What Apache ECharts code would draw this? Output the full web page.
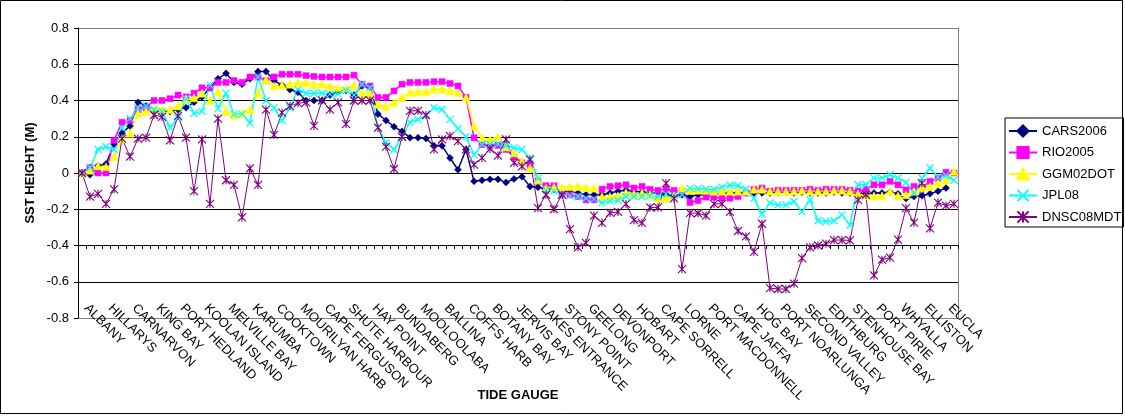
<!DOCTYPE html>
<html>
<head>
<meta charset="utf-8">
<script src="https://cdn.jsdelivr.net/npm/echarts@6/dist/echarts.min.js"></script>
<style>
html,body{margin:0;padding:0;background:#fff;}
#chart{width:1125px;height:416px;}
</style>
</head>
<body>
<div id="chart"></div>
<script>
// Tide gauge names (every third gauge is labelled on the axis)
const stationNames = ['ALBANY','HILLARYS','CARNARVON','KING BAY','PORT HEDLAND','KOOLAN ISLAND','MELVILLE BAY','KARUMBA','COOKTOWN','MOURILYAN HARB','CAPE FERGUSON','SHUTE HARBOUR','HAY POINT','BUNDABERG','MOOLOOLABA','BALLINA','COFFS HARB','BOTANY BAY','JERVIS BAY','LAKES ENTRANCE','STONY POINT','GEELONG','DEVONPORT','HOBART','CAPE SORRELL','LORNE','PORT MACDONNELL','CAPE JAFFA','HOG BAY','PORT NOARLUNGA','SECOND VALLEY','EDITHBURG','STENHOUSE BAY','PORT PIRIE','WHYALLA','ELLISTON','EUCLA'];
const gaugeCount = 110;
const categories = [];
for (let i = 0; i < gaugeCount; i++) { categories.push(i % 3 === 0 && stationNames[i / 3] ? stationNames[i / 3] : ''); }

const yTicks = ['-0.8','-0.6','-0.4','-0.2','0','0.2','0.4','0.6','0.8'];

const cars2006 = [0,-0.01,0.04,0.05,0.16,0.22,0.26,0.39,0.37,0.34,
0.34,0.34,0.35,0.36,0.39,0.42,0.47,0.52,0.55,0.50,
0.49,0.52,0.56,0.56,0.51,0.485,0.46,0.445,0.40,0.40,
0.40,0.43,0.45,0.455,0.43,0.48,0.47,0.325,0.29,0.255,
0.23,0.195,0.195,0.19,0.15,0.15,0.083,0.018,0.13,-0.046,
-0.04,-0.035,-0.035,-0.052,-0.033,-0.02,-0.074,-0.078,-0.09,-0.09,
-0.10,-0.105,-0.11,-0.12,-0.12,-0.12,-0.11,-0.10,-0.095,-0.10,
-0.105,-0.11,-0.11,-0.12,-0.13,-0.12,-0.13,-0.12,-0.12,-0.12,
-0.115,-0.11,-0.11,-0.11,-0.11,-0.11,-0.11,-0.105,-0.105,-0.11,
-0.105,-0.11,-0.11,-0.11,-0.105,-0.11,-0.11,-0.11,-0.115,-0.11,
-0.11,-0.105,-0.115,-0.14,-0.13,-0.125,-0.115,-0.10,-0.083,null];

const rio2005 = [0,0.03,0,0,0.18,0.28,0.29,0.35,0.36,0.40,
0.40,0.41,0.43,0.42,0.44,0.47,0.47,0.50,0.50,0.51,
0.50,0.53,0.53,0.51,0.53,0.545,0.545,0.545,0.537,0.533,
0.53,0.53,0.53,0.53,0.54,0.49,0.48,0.417,0.417,0.453,
0.49,0.50,0.50,0.50,0.504,0.504,0.494,0.48,0.417,0.194,
0.157,0.148,0.152,0.13,0.089,0.056,0.046,-0.046,-0.07,-0.07,
-0.11,-0.12,-0.13,-0.148,-0.148,-0.089,-0.074,-0.07,-0.065,-0.083,
-0.074,-0.09,-0.096,-0.09,-0.096,-0.10,-0.163,-0.152,-0.133,-0.133,
-0.139,-0.139,-0.13,-0.11,-0.09,-0.083,-0.10,-0.095,-0.095,-0.095,
-0.095,-0.09,-0.095,-0.09,-0.09,-0.09,-0.095,-0.10,-0.089,-0.065,
-0.065,-0.046,-0.065,-0.093,-0.074,-0.08,-0.046,-0.028,0.004,0];

const ggm02dot = [0,0.015,0.04,0.035,0.09,0.19,0.22,0.33,0.34,0.355,
0.35,0.35,0.37,0.41,0.415,0.44,0.40,0.45,0.34,0.32,
0.33,0.35,0.44,0.515,0.48,0.485,0.49,0.50,0.50,0.49,
0.49,0.48,0.47,0.467,0.485,0.44,0.44,0.38,0.367,0.39,
0.417,0.444,0.448,0.45,0.463,0.463,0.454,0.444,0.417,0.26,
0.194,0.185,0.20,0.144,0.111,0.065,0.028,-0.037,-0.083,-0.078,
-0.078,-0.074,-0.074,-0.08,-0.083,-0.13,-0.13,-0.126,-0.107,-0.115,
-0.11,-0.12,-0.139,-0.139,-0.125,-0.083,-0.096,-0.095,-0.095,-0.10,
-0.10,-0.10,-0.10,-0.10,-0.09,-0.09,-0.10,-0.10,-0.10,-0.10,
-0.095,-0.10,-0.10,-0.10,-0.095,-0.095,-0.10,-0.115,-0.125,-0.126,
-0.126,-0.10,-0.126,-0.12,-0.10,-0.078,-0.074,-0.056,-0.04,0.01];

const jpl08 = [0,0.03,0.13,0.145,0.13,0.25,0.30,0.36,0.37,0.35,
0.34,0.25,0.305,0.41,0.33,0.34,0.485,0.355,0.44,0.325,
0.325,0.275,0.53,0.40,0.36,0.29,0.36,0.46,0.44,0.44,
0.44,0.435,0.435,0.455,0.43,0.49,0.47,0.25,0.167,0.13,
0.20,0.28,0.296,0.315,0.36,0.35,0.296,0.244,0.20,0.10,
0.157,0.157,0.16,0.152,0.139,0.13,0.083,-0.028,-0.093,-0.10,
-0.115,-0.126,-0.13,-0.139,-0.144,-0.165,-0.155,-0.15,-0.13,-0.13,
-0.13,-0.125,-0.13,-0.115,-0.125,-0.12,-0.085,-0.085,-0.09,-0.09,
-0.078,-0.068,-0.07,-0.09,-0.14,-0.226,-0.165,-0.176,-0.176,-0.157,
-0.213,-0.148,-0.263,-0.268,-0.263,-0.231,-0.287,-0.065,-0.065,-0.028,
-0.028,-0.01,-0.028,-0.052,-0.11,-0.028,0.028,-0.022,-0.015,-0.04];

const dnsc08mdt = [0,-0.13,-0.115,-0.17,-0.09,0.19,0.09,0.19,0.195,0.32,
0.31,0.18,0.315,0.195,-0.10,0.185,-0.17,0.30,-0.04,-0.065,
-0.245,0.025,-0.066,0.35,0.21,0.333,0.37,0.385,0.39,0.26,
0.40,0.35,0.39,0.27,0.40,0.40,0.40,0.25,0.145,0.022,
0.20,0.343,0.343,0.32,0.13,0.185,0.204,0.176,0.13,0.046,
0.083,0.133,0.096,0.185,0.056,0.037,0.074,-0.194,-0.12,-0.20,
-0.12,-0.31,-0.41,-0.385,-0.235,-0.275,-0.22,-0.215,-0.17,-0.26,
-0.275,-0.19,-0.19,-0.056,-0.14,-0.53,-0.22,-0.222,-0.235,-0.17,
-0.17,-0.215,-0.32,-0.35,-0.435,-0.28,-0.635,-0.64,-0.64,-0.61,
-0.47,-0.41,-0.40,-0.39,-0.37,-0.37,-0.372,-0.148,-0.12,-0.565,
-0.478,-0.467,-0.367,-0.194,-0.274,-0.056,-0.305,-0.163,-0.18,-0.17];

const seriesNames = ['CARS2006','RIO2005','GGM02DOT','JPL08','DNSC08MDT'];
const seriesData = [cars2006, rio2005, ggm02dot, jpl08, dnsc08mdt];
const seriesColors = ['#000080','#FF00FF','#FFFF00','#00FFFF','#800080'];
const seriesSymbols = ['diamond','rect','triangle','path://M0,0L10,10M10,0L0,10','path://M0,0L10,10M10,0L0,10M5,0L5,10'];
const symbolSizes = [7,6,8,7,8];
const borderWidths = [0.5,0.5,0.5,1.3,1.1];

const FONT = 'Arial, "Liberation Sans", sans-serif';
const FS = 13;

const chart = echarts.init(document.getElementById('chart'), null, {renderer:'canvas'});

const series = seriesNames.map((name, k) => ({
  name: name,
  type: 'line',
  data: seriesData[k],
  xAxisIndex: 0,
  yAxisIndex: 0,
  symbol: seriesSymbols[k],
  symbolSize: symbolSizes[k],
  showAllSymbol: true,
  connectNulls: false,
  animation: false,
  lineStyle: {color: seriesColors[k], width: k === 4 ? 1 : 1.5},
  itemStyle: {color: seriesColors[k], borderColor: seriesColors[k], borderWidth: borderWidths[k]},
  emphasis: {disabled: true}
}));

chart.setOption({
  animation: false,
  backgroundColor: '#ffffff',
  textStyle: {fontFamily: FONT},
  graphic: [{
    type: 'rect', silent: true, z: 100,
    shape: {x: 0.5, y: 0.5, width: 1122, height: 413},
    style: {fill: null, stroke: '#000000', lineWidth: 1}
  }],
  grid: [
    {left: 78, right: 167, top: 28, bottom: 98, containLabel: false, outerBoundsMode: 'none'},
    {left: 78, right: 167, top: 28, bottom: 171, containLabel: false, outerBoundsMode: 'none'}
  ],
  legend: {
    orient: 'vertical',
    left: 1005, top: 118,
    padding: [6, 2, 3, 3],
    itemWidth: 28, itemHeight: 14,
    itemGap: 7.5,
    borderColor: '#000000', borderWidth: 1,
    backgroundColor: '#ffffff',
    textStyle: {fontFamily: FONT, fontSize: FS, color: '#000000', lineHeight: 14},
    data: seriesNames
  },
  xAxis: [{
    type: 'category',
    gridIndex: 0,
    data: categories,
    boundaryGap: true,
    position: 'bottom',
    name: 'TIDE GAUGE',
    nameLocation: 'middle',
    nameGap: 71,
    nameMoveOverlap: false,
    nameTextStyle: {fontFamily: FONT, fontSize: FS, fontWeight: 'bold', color: '#000'},
    axisLine: {show: false, onZero: false},
    axisTick: {show: false},
    axisLabel: {interval: 2, rotate: -45, margin: -16, padding: [0, 0, 0, 6], fontFamily: FONT, fontSize: FS, color: '#000'},
    splitLine: {show: false}
  }, {
    type: 'category',
    gridIndex: 1,
    data: categories,
    boundaryGap: true,
    position: 'bottom',
    axisLine: {show: true, onZero: false, lineStyle: {color: '#000000', width: 1}},
    axisTick: {show: true, interval: 0, length: 4, lineStyle: {color: '#000000'}},
    axisLabel: {show: false},
    splitLine: {show: false}
  }],
  yAxis: [{
    type: 'value',
    gridIndex: 0,
    min: -0.8, max: 0.8, interval: 0.2,
    name: 'SST HEIGHT (M)',
    nameLocation: 'middle',
    nameGap: 41,
    nameMoveOverlap: false,
    nameTextStyle: {fontFamily: FONT, fontSize: FS, fontWeight: 'bold', color: '#000'},
    axisLine: {show: true, lineStyle: {color: '#000000', width: 1}},
    axisTick: {show: true, length: 4, lineStyle: {color: '#000000'}},
    axisLabel: {margin: 9, fontFamily: FONT, fontSize: FS, color: '#000',
      formatter: function (v) { const idx = Math.round((v + 0.8) / 0.2); return yTicks[idx]; }},
    splitLine: {show: true, lineStyle: {color: ['#808080','#000000','#000000','#000000','#000000','#000000','#000000','#000000','#808080'], width: 1}}
  }, {
    type: 'value',
    gridIndex: 0,
    min: -0.8, max: 0.8, interval: 0.2,
    position: 'right',
    axisLine: {show: true, lineStyle: {color: '#808080', width: 1}},
    axisTick: {show: false},
    axisLabel: {show: false},
    splitLine: {show: false}
  }, {
    type: 'value',
    gridIndex: 1,
    min: -0.4, max: 0.8, interval: 0.2,
    show: false
  }],
  series: series
});
</script>
</body>
</html>
